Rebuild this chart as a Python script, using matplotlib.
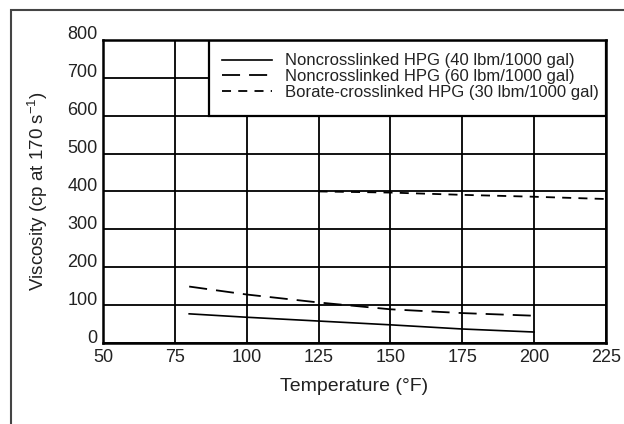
import matplotlib.pyplot as plt
import matplotlib.transforms as mtransforms
from matplotlib.patches import Rectangle

plt.rcParams['font.family'] = ['Liberation Sans', 'DejaVu Sans']
plt.rcParams['mathtext.default'] = 'regular'

# donnees
temp_40 = [80, 100, 125, 150, 175, 200]
visc_40 = [77, 68, 58, 48, 37, 29]
temp_60 = [80, 100, 125, 150, 175, 200]
visc_60 = [149, 128, 107, 89, 79, 72]
temp_borate = [125, 150, 175, 200, 225]
visc_borate = [400, 397, 391, 386, 380]

labels = ['Noncrosslinked HPG (40 lbm/1000 gal)',
          'Noncrosslinked HPG (60 lbm/1000 gal)',
          'Borate-crosslinked HPG (30 lbm/1000 gal)']
x_ticks = [50, 75, 100, 125, 150, 175, 200, 225]
y_ticks = [0, 100, 200, 300, 400, 500, 600, 700, 800]

fig = plt.figure(figsize=(6.24, 4.24), dpi=100)
ax = fig.add_axes([0.165, 0.191, 0.806, 0.715])

# cadre exterieur (coupe a droite et en bas)
fig.patches.append(Rectangle((0.018, -0.1), 1.1, 1.077, transform=fig.transFigure,
                             fill=False, edgecolor='#444444', linewidth=1.5))

ax.plot(temp_40, visc_40, color='black', lw=1.2, label=labels[0], zorder=3)
ax.plot(temp_60, visc_60, color='black', lw=1.3, dashes=(10, 5), label=labels[1], zorder=3)
ax.plot(temp_borate, visc_borate, color='black', lw=1.3, dashes=(5, 4), label=labels[2], zorder=3)

ax.set_xlim(50, 225)
ax.set_ylim(0, 800)
ax.set_xticks(x_ticks)
ax.set_yticks(y_ticks)
ax.grid(True, color='black', lw=1.3)
ax.set_axisbelow(True)
ax.tick_params(length=0, labelsize=13, pad=4, labelcolor='#222222')
for s in ax.spines.values():
    s.set_linewidth(1.8)

# les etiquettes de l'axe y sont un peu au-dessus des lignes
decal = mtransforms.ScaledTranslation(0, 5 / 72, fig.dpi_scale_trans)
for lab in ax.get_yticklabels():
    lab.set_transform(lab.get_transform() + decal)

# la boite de legende cache la grille
ax.add_patch(Rectangle((87, 600), 138, 200, facecolor='white', edgecolor='black',
                       lw=1.6, zorder=1.5))
ax.legend(loc='upper left', bbox_to_anchor=(0.237, 0.955), frameon=False,
          fontsize=12, handlelength=3.0, borderpad=0, borderaxespad=0,
          labelspacing=0.05, handletextpad=0.8, labelcolor='#222222')

ax.set_xlabel('Temperature (°F)', fontsize=14, labelpad=9, color='#222222')
ax.set_ylabel('Viscosity (cp at 170 s$^{-1}$)', fontsize=13.5, labelpad=12, color='#222222')

fig.savefig('out.png', dpi=100)
